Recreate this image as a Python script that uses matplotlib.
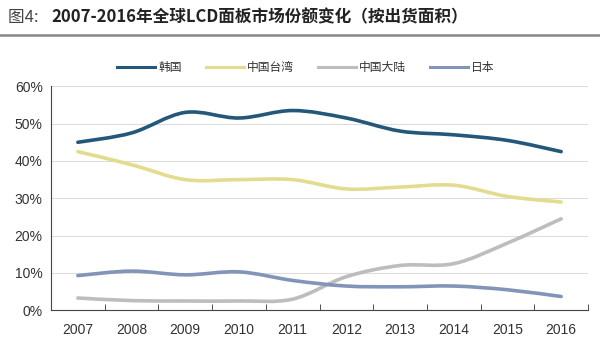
import matplotlib.pyplot as plt
import numpy as np
from matplotlib.path import Path
from matplotlib.patches import PathPatch
from matplotlib.lines import Line2D

plt.rcParams['font.family'] = ['Noto Sans CJK SC', 'DejaVu Sans']

years = ['2007', '2008', '2009', '2010', '2011', '2012', '2013', '2014', '2015', '2016']
korea = [45.0, 47.5, 53.0, 51.5, 53.5, 51.5, 48.0, 47.0, 45.5, 42.5]
taiwan = [42.5, 39.0, 35.0, 35.0, 35.0, 32.5, 33.0, 33.5, 30.5, 29.0]
mainland = [3.3, 2.6, 2.5, 2.5, 3.0, 9.0, 12.0, 12.5, 18.0, 24.5]
japan = [9.3, 10.5, 9.5, 10.3, 8.0, 6.5, 6.3, 6.5, 5.5, 3.7]

names = ['韩国', '中国台湾', '中国大陆', '日本']
colors = ['#24587a', '#e3dc8e', '#bdbdbd', '#8295b8']
series = [korea, taiwan, mainland, japan]


def smooth_path(xs, ys, t=1/6):
    # catmull-rom style bezier segments through every point
    pts = np.column_stack([xs, ys])
    verts = [pts[0]]
    codes = [Path.MOVETO]
    n = len(pts)
    for i in range(n - 1):
        p0 = pts[max(i - 1, 0)]
        p1 = pts[i]
        p2 = pts[i + 1]
        p3 = pts[min(i + 2, n - 1)]
        c1 = p1 + (p2 - p0) * t
        c2 = p2 - (p3 - p1) * t
        verts += [c1, c2, p2]
        codes += [Path.CURVE4] * 3
    return Path(verts, codes)


fig = plt.figure(figsize=(6, 3.41), dpi=100)
ax = fig.add_axes([0.085, 0.09, 0.895, 0.657])

x = np.arange(len(years))
for vals, c in zip(series, colors):
    ax.add_patch(PathPatch(smooth_path(x, vals), fill=False, edgecolor=c,
                           lw=2.6, capstyle='round', zorder=3))

tick_font = ['Liberation Sans', 'DejaVu Sans']
ax.set_xlim(-0.5, len(years) - 0.5)
ax.set_ylim(0, 60)
ax.set_yticks(range(0, 61, 10))
ax.set_yticklabels([f'{v}%' for v in range(0, 61, 10)], fontsize=10, color='#333333',
                   family=tick_font)
ax.set_xticks(x)
ax.set_xticklabels(years, fontsize=10, color='#333333', family=tick_font)
ax.set_xticks(np.arange(-0.5, len(years)), minor=True)
ax.tick_params(axis='x', which='major', length=0, pad=9)
ax.tick_params(axis='x', which='minor', length=4, color='#333333', direction='in')
ax.tick_params(axis='y', length=0, pad=6)
ax.grid(axis='y', color='#dddddd', lw=0.8)
ax.set_axisbelow(True)
for s in ['top', 'right']:
    ax.spines[s].set_visible(False)
ax.spines['left'].set_color('#444444')
ax.spines['bottom'].set_color('#444444')

handles = [Line2D([], [], color=c, lw=2.2) for c in colors]
fig.legend(handles, names, loc='center', bbox_to_anchor=(0.51, 0.803), ncol=4,
           frameon=False, fontsize=8.5, handlelength=3.2, columnspacing=2.0,
           handletextpad=0.3, labelcolor='#333333')

fig.text(0.013, 0.95, '图4: ', fontsize=12, color='#444444', va='center')
fig.text(0.085, 0.95, '2007-2016年全球LCD面板市场份额变化（按出货面积）',
         fontsize=12, fontweight='bold', color='#222222', va='center')
fig.add_artist(Line2D([0, 1], [0.897, 0.897], color='#888888', lw=1.8))

fig.savefig('out.png', dpi=100)
